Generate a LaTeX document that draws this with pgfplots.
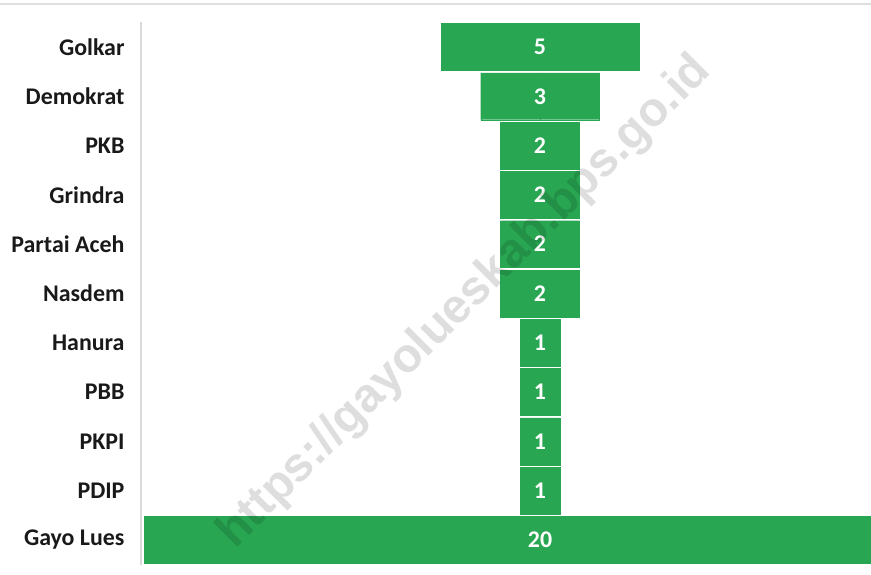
\documentclass[border=0pt]{standalone}
\usepackage{fontspec}
\setmainfont{Carlito}
\newfontfamily\wmfont{Liberation Sans}
\usepackage{pgfplots}
\usepackage{pgfplotstable}
\pgfplotsset{compat=1.18}
\definecolor{barg}{RGB}{41,166,82}

% funnel: half = v/2 to the right, neg = -v/2 to the left
\pgfplotstableread{
y half neg c v
0 2.5 -2.5 0 5
1 1.5 -1.5 0 3
2 1 -1 0 2
3 1 -1 0 2
4 1 -1 0 2
5 1 -1 0 2
6 0.5 -0.5 0 1
7 0.5 -0.5 0 1
8 0.5 -0.5 0 1
9 0.5 -0.5 0 1
10 10 -10 0 20
}\funnel

\begin{document}
\begin{tikzpicture}
\begin{axis}[
    scale only axis,
    width=730bp, height=542.3bp,
    xmin=-10.08, xmax=8.36,
    ymin=-0.5, ymax=10.5,
    y dir=reverse,
    axis x line=none,
    axis y line*=left,
    axis line style={draw=black!15, line width=1.5bp},
    ytick={0,...,10},
    yticklabels={Golkar,Demokrat,PKB,Grindra,Partai Aceh,Nasdem,Hanura,PBB,PKPI,PDIP,Gayo Lues},
    major tick length=0pt,
    yticklabel style={font=\bfseries\fontsize{24}{28}\selectfont, text=black!90, anchor=east, xshift=-13bp},
    /pgf/number format/assume math mode=true,
]
\addplot[xbar, bar width=0.95, bar shift=0pt, fill=barg, draw=barg, line width=0.3bp]
    table[x=half, y=y] {\funnel};
\addplot[xbar, bar width=0.95, bar shift=0pt, fill=barg, draw=barg, line width=0.3bp]
    table[x=neg, y=y] {\funnel};
\addplot[draw=none, mark=none, point meta=explicit,
    nodes near coords,
    every node near coord/.append style={anchor=center, text=white,
        font=\bfseries\fontsize{24}{28}\selectfont}]
    table[x=c, y=y, meta=v] {\funnel};
\end{axis}
% thin rule along the top of the chart
\draw[black!13, line width=1.6bp] (current axis.north west) ++(-141bp,18.3bp) -- ++(871bp,0);
% watermark
\node[rotate=45, text=black, opacity=0.13, font=\wmfont\bfseries\fontsize{48}{50}\selectfont]
    at ([shift={(324bp,262bp)}]current axis.south west) {https://gayolueskab.bps.go.id};
\pgfresetboundingbox
\path (current axis.south west) ++(-141bp,-10.4bp) rectangle ++(871bp,575bp);
\end{tikzpicture}
\end{document}
